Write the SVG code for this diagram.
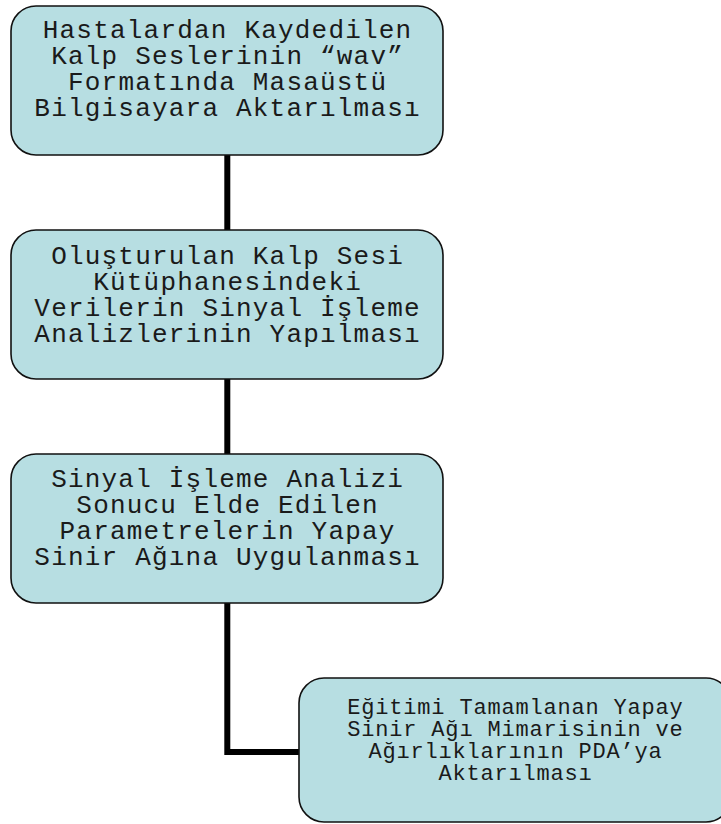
<svg xmlns="http://www.w3.org/2000/svg" width="721" height="824" viewBox="0 0 721 824">
<style>
.box{fill:#b7dee2;stroke:#111;stroke-width:1.6}
.t{font-family:"Liberation Mono","Courier New",monospace;font-size:26px;letter-spacing:1.2px;fill:#1a1a1a;text-anchor:middle}
.s{font-family:"Liberation Mono","Courier New",monospace;font-size:22px;letter-spacing:0.8px;fill:#1a1a1a;text-anchor:middle}
.c{fill:none;stroke:#000;stroke-width:6;stroke-linejoin:miter}
</style>
<rect width="721" height="824" fill="#fff"/>
<g id="connectors">
<path class="c" d="M227.3 155 V230"/>
<path class="c" d="M227.3 379 V454"/>
<path class="c" d="M227.3 603 V752 H299"/>
</g>
<g id="n1">
<rect class="box" x="11" y="6" width="432" height="149" rx="25"/>
<text class="t" x="227.6" y="37.5">Hastalardan Kaydedilen</text>
<text class="t" x="227.6" y="63.5">Kalp Seslerinin “wav”</text>
<text class="t" x="227.6" y="89.5">Formatında Masaüstü</text>
<text class="t" x="227.6" y="115.5">Bilgisayara Aktarılması</text>
</g>
<g id="n2">
<rect class="box" x="11" y="230" width="432" height="149" rx="25"/>
<text class="t" x="227.6" y="264">Oluşturulan Kalp Sesi</text>
<text class="t" x="227.6" y="290">Kütüphanesindeki</text>
<text class="t" x="227.6" y="316">Verilerin Sinyal İşleme</text>
<text class="t" x="227.6" y="342">Analizlerinin Yapılması</text>
</g>
<g id="n3">
<rect class="box" x="11" y="454" width="432" height="149" rx="25"/>
<text class="t" x="227.6" y="487">Sinyal İşleme Analizi</text>
<text class="t" x="227.6" y="513">Sonucu Elde Edilen</text>
<text class="t" x="227.6" y="539">Parametrelerin Yapay</text>
<text class="t" x="227.6" y="565">Sinir Ağına Uygulanması</text>
</g>
<g id="n4">
<rect class="box" x="299" y="678" width="432" height="144" rx="25"/>
<text class="s" x="515.4" y="714">Eğitimi Tamamlanan Yapay</text>
<text class="s" x="515.4" y="736">Sinir Ağı Mimarisinin ve</text>
<text class="s" x="515.4" y="758">Ağırlıklarının PDA’ya</text>
<text class="s" x="515.4" y="780">Aktarılması</text>
</g>
</svg>
